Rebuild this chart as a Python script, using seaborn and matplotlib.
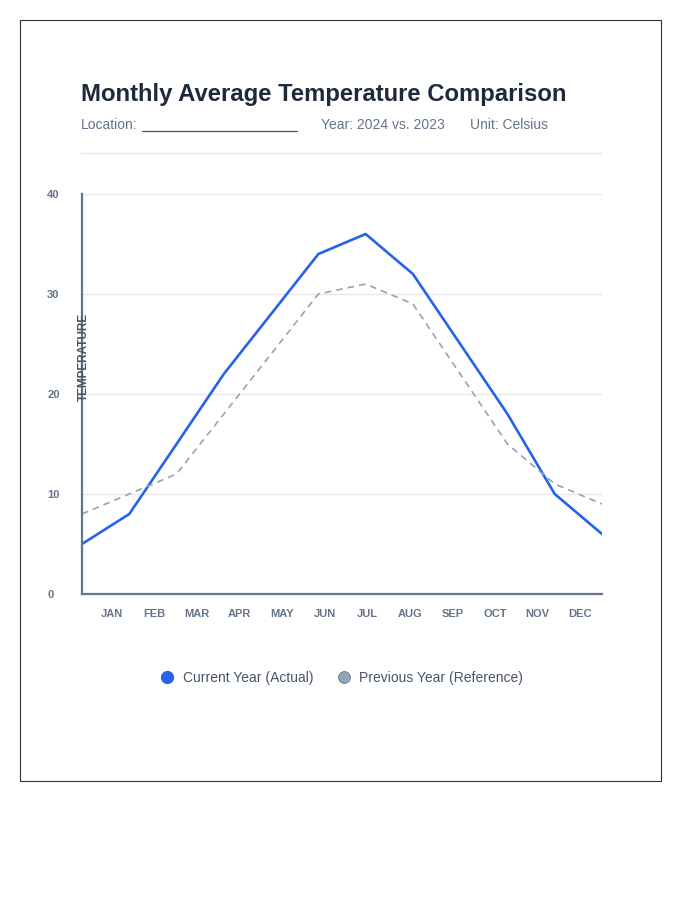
import numpy as np
import pandas as pd
import matplotlib.pyplot as plt
import seaborn as sns

months = ["JAN", "FEB", "MAR", "APR", "MAY", "JUN", "JUL", "AUG", "SEP", "OCT", "NOV", "DEC"]
current_year = [5, 8, 15, 22, 28, 34, 36, 32, 25, 18, 10, 6]
previous_year = [8, 10, 12, 18, 24, 30, 31, 29, 22, 15, 11, 9]
y_ticks = [0, 10, 20, 30, 40]
series_names = ["Current Year (Actual)", "Previous Year (Reference)"]

df = pd.DataFrame({
    "idx": list(range(12)) * 2,
    "temp": current_year + previous_year,
    "series": [series_names[0]] * 12 + [series_names[1]] * 12,
})

sns.set_theme(style="white")
plt.rcParams["font.family"] = ["Liberation Sans", "DejaVu Sans"]

SLATE = "#64748b"
BLUE = "#2563eb"
GREY = "#94a3b8"

fig = plt.figure(figsize=(7, 9), dpi=100)

# card border
fig.patches.append(plt.Rectangle((20 / 700, 1 - 781 / 900), 641 / 700, 761 / 900,
                                 transform=fig.transFigure, fill=False,
                                 edgecolor="#333333", linewidth=0.8))

fig.text(81 / 700, 1 - 95 / 900, "Monthly Average Temperature Comparison",
         fontsize=17.2, fontweight="bold", color="#1e293b", va="center", ha="left")
fig.text(81 / 700, 1 - 125 / 900, "Location:", fontsize=10, color=SLATE, va="center")
fig.add_artist(plt.Line2D([142 / 700, 297 / 700], [1 - 131 / 900, 1 - 131 / 900],
                          transform=fig.transFigure, color="#475569", linewidth=0.9))
fig.text(321 / 700, 1 - 125 / 900, "Year: 2024 vs. 2023", fontsize=10, color=SLATE, va="center")
fig.text(470 / 700, 1 - 125 / 900, "Unit: Celsius", fontsize=10, color=SLATE, va="center")
fig.add_artist(plt.Line2D([81 / 700, 601 / 700], [1 - 153 / 900, 1 - 153 / 900],
                          transform=fig.transFigure, color="#e5e7eb", linewidth=1))

ax = fig.add_axes([82 / 700, 1 - 594 / 900, 520 / 700, 400 / 900])
sns.lineplot(data=df, x="idx", y="temp", hue="series", style="series",
             palette={series_names[0]: BLUE, series_names[1]: GREY},
             dashes={series_names[0]: "", series_names[1]: (4, 3)},
             size="series", sizes={series_names[0]: 1.9, series_names[1]: 1.2},
             legend=False, ax=ax)

ax.set_xlim(0, 11)
ax.set_ylim(0, 40)
ax.set_yticks(y_ticks)
ax.set_yticklabels([str(t) for t in y_ticks], fontsize=8, fontweight="bold",
                   color=SLATE, ha="left", va="center_baseline")
ax.tick_params(axis="y", length=0, pad=25)
ax.yaxis.grid(True, color="#e5e7eb", linewidth=0.9)
ax.set_axisbelow(True)

label_pos = np.linspace(0.635, 10.535, 12)
ax.set_xticks(label_pos)
ax.set_xticklabels(months, fontsize=8, fontweight="bold", color=SLATE)
ax.tick_params(axis="x", length=0, pad=11)
ax.set_xlabel("")
ax.set_ylabel("")

for s in ["top", "right"]:
    ax.spines[s].set_visible(False)
for s in ["left", "bottom"]:
    ax.spines[s].set_color(SLATE)
    ax.spines[s].set_linewidth(1.6)

fig.text(84 / 700, 1 - 357 / 900, "TEMPERATURE", rotation=90, fontsize=8.5,
         fontweight="bold", color="#475569", ha="center", va="center")

handles = [
    plt.Line2D([], [], marker="o", linestyle="", markersize=8.5,
               markerfacecolor=BLUE, markeredgecolor=BLUE),
    plt.Line2D([], [], marker="o", linestyle="", markersize=8.5,
               markerfacecolor=GREY, markeredgecolor="#64748b", markeredgewidth=0.6),
]
leg = fig.legend(handles, series_names, loc="center", ncol=2, frameon=False,
                 bbox_to_anchor=(341 / 700, 1 - 678 / 900), fontsize=10,
                 handletextpad=0.5, columnspacing=1.6, handlelength=1.2)
for t in leg.get_texts():
    t.set_color("#475569")

fig.savefig("out.png", dpi=100)
